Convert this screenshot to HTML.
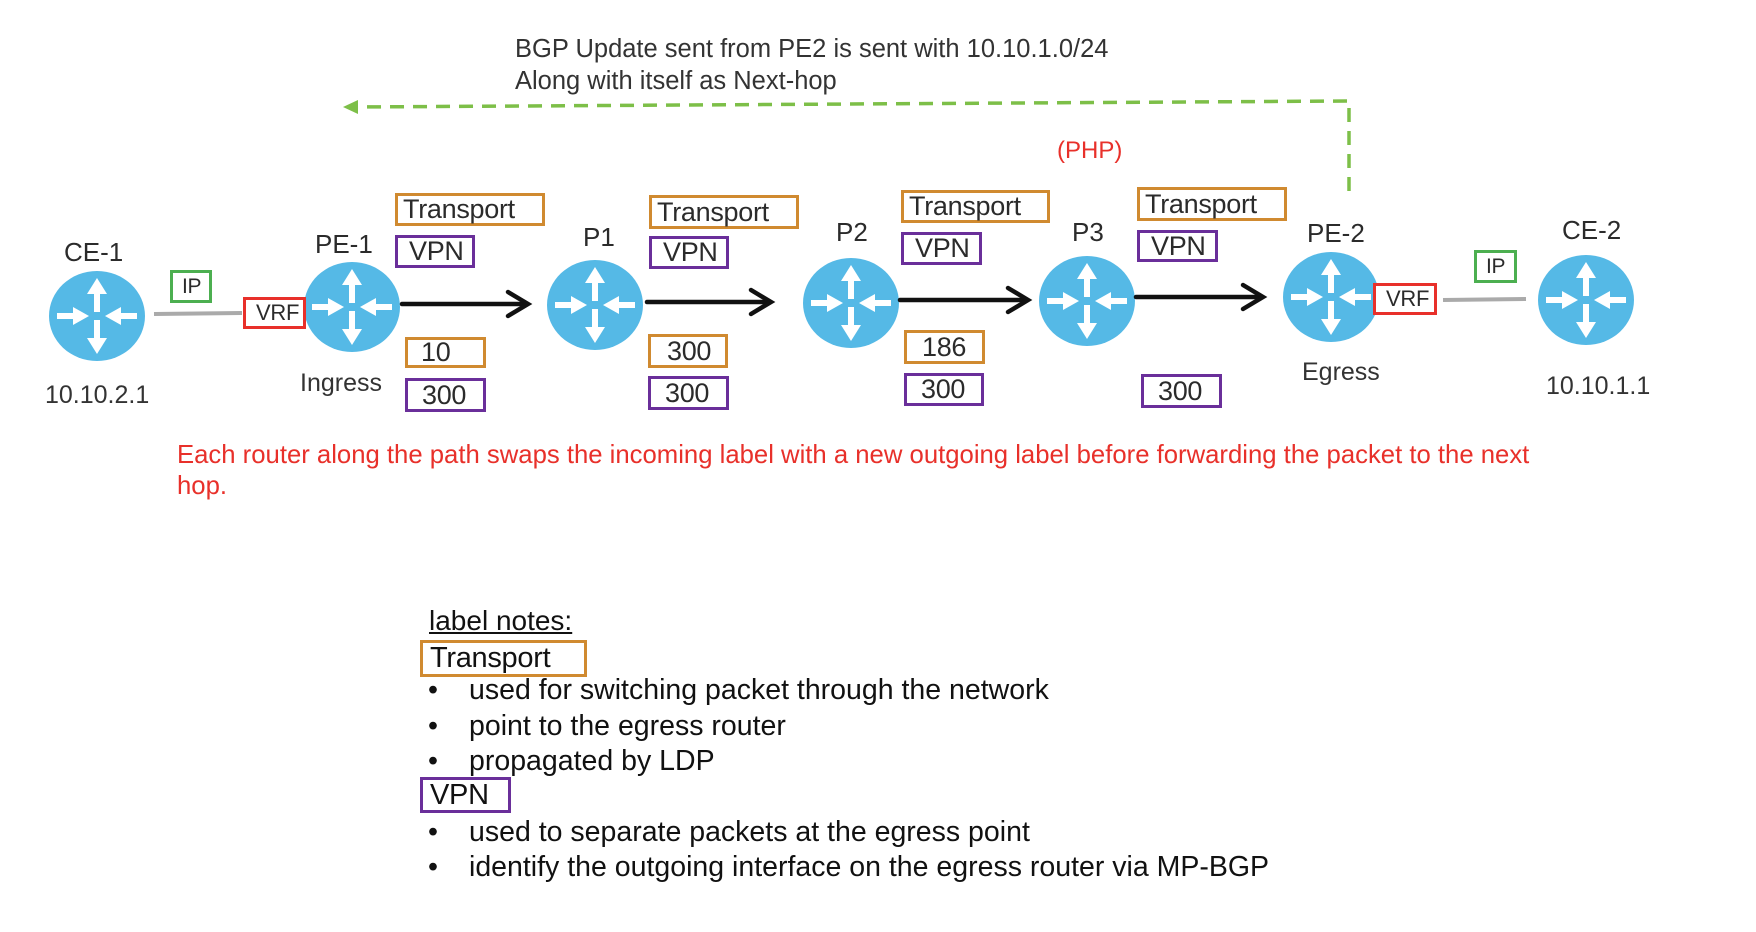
<!DOCTYPE html>
<html><head><meta charset="utf-8"><style>
body{margin:0;width:1756px;height:932px;background:#fff;overflow:hidden;position:relative;font-family:"Liberation Sans",sans-serif;color:#2b2b2b}
.t{position:absolute;white-space:nowrap;line-height:1}
.b{position:absolute;box-sizing:border-box;border:3.5px solid;background:#fff;font-size:27px;line-height:1;padding-left:5px;display:flex;align-items:center;white-space:nowrap;letter-spacing:-0.3px}
.o{border-color:#d08a30}.p{border-color:#6a2f9a}
.n{font-size:26px}
svg{position:absolute;left:0;top:0}
</style></head><body>
<svg width="1756" height="932" viewBox="0 0 1756 932">
<defs>
<g id="r">
<ellipse cx="0" cy="0" rx="48" ry="45" fill="#55b9e6"/>
<g fill="#fff" stroke="#fff">
<line x1="0" y1="-4" x2="0" y2="-24" stroke-width="6"/><polygon points="-10,-22 10,-22 0,-38" stroke="none"/>
<line x1="0" y1="4" x2="0" y2="24" stroke-width="6"/><polygon points="-10,22 10,22 0,38" stroke="none"/>
<line x1="-40" y1="0" x2="-22" y2="0" stroke-width="6"/><polygon points="-24,-9 -24,9 -8,0" stroke="none"/>
<line x1="40" y1="0" x2="22" y2="0" stroke-width="6"/><polygon points="24,-9 24,9 8,0" stroke="none"/>
</g></g>
</defs>
<line x1="154" y1="314" x2="242" y2="313" stroke="#aaa" stroke-width="4"/>
<line x1="1443" y1="300" x2="1526" y2="299" stroke="#aaa" stroke-width="4"/>
<use href="#r" x="97" y="316"/>
<use href="#r" x="352" y="307"/>
<use href="#r" x="595" y="305"/>
<use href="#r" x="851" y="303"/>
<use href="#r" x="1087" y="301"/>
<use href="#r" x="1331" y="297"/>
<use href="#r" x="1586" y="300"/>
<g stroke="#111" stroke-width="4.5" fill="none" stroke-linecap="round">
<line x1="402" y1="304" x2="527" y2="304"/><polyline points="508,292 528,304 508,316"/>
<line x1="647" y1="302" x2="770" y2="302"/><polyline points="751,290 771,302 751,314"/>
<line x1="900" y1="300" x2="1027" y2="300"/><polyline points="1008,288 1028,300 1008,312"/>
<line x1="1136" y1="297" x2="1262" y2="297"/><polyline points="1243,285 1263,297 1243,309"/>
</g>
<polyline points="1349,191 1349,101 356,107" fill="none" stroke="#7dbf48" stroke-width="3.5" stroke-dasharray="14,9"/>
<polygon points="343,107 358,100 358,114" fill="#7dbf48"/>
</svg>
<div class="t" style="left:515px;top:37px;font-size:25.5px;color:#333">BGP Update sent from PE2 is sent with 10.10.1.0/24</div>
<div class="t" style="left:515px;top:69px;font-size:25.5px;color:#333">Along with itself as Next-hop</div>
<div class="t" style="left:1057px;top:139px;font-size:24px;color:#e8302a">(PHP)</div>

<div class="t n" style="left:64px;top:239px">CE-1</div>
<div class="t n" style="left:315px;top:231px">PE-1</div>
<div class="t n" style="left:583px;top:224px">P1</div>
<div class="t n" style="left:836px;top:219px">P2</div>
<div class="t n" style="left:1072px;top:219px">P3</div>
<div class="t n" style="left:1307px;top:220px">PE-2</div>
<div class="t n" style="left:1562px;top:217px">CE-2</div>

<div class="b" style="left:170px;top:270px;width:42px;height:33px;border-color:#4caf50;font-size:21px;padding-left:9px">IP</div>
<div class="b" style="left:1474px;top:250px;width:43px;height:33px;border-color:#4caf50;font-size:21px;padding-left:9px">IP</div>
<div class="b" style="left:243px;top:297px;width:63px;height:32px;border-color:#e8302a;font-size:22px;padding-left:10px">VRF</div>
<div class="b" style="left:1373px;top:283px;width:64px;height:32px;border-color:#e8302a;font-size:22px;padding-left:10px">VRF</div>

<div class="b o" style="left:395px;top:193px;width:150px;height:33px">Transport</div>
<div class="b p" style="left:395px;top:235px;width:80px;height:33px;padding-left:11px">VPN</div>
<div class="b o" style="left:649px;top:195px;width:150px;height:34px">Transport</div>
<div class="b p" style="left:649px;top:236px;width:80px;height:33px;padding-left:11px">VPN</div>
<div class="b o" style="left:901px;top:190px;width:149px;height:33px">Transport</div>
<div class="b p" style="left:901px;top:232px;width:81px;height:33px;padding-left:11px">VPN</div>
<div class="b o" style="left:1137px;top:187px;width:150px;height:34px">Transport</div>
<div class="b p" style="left:1137px;top:230px;width:81px;height:32px;padding-left:11px">VPN</div>

<div class="b o" style="left:405px;top:337px;width:81px;height:31px;padding-left:13px">10</div>
<div class="b p" style="left:405px;top:378px;width:81px;height:34px;padding-left:14px">300</div>
<div class="b o" style="left:648px;top:334px;width:80px;height:34px;padding-left:16px">300</div>
<div class="b p" style="left:648px;top:376px;width:81px;height:34px;padding-left:14px">300</div>
<div class="b o" style="left:904px;top:330px;width:81px;height:34px;padding-left:15px">186</div>
<div class="b p" style="left:904px;top:373px;width:80px;height:33px;padding-left:14px">300</div>
<div class="b p" style="left:1141px;top:374px;width:81px;height:34px;padding-left:14px">300</div>

<div class="t" style="left:45px;top:383px;font-size:25px;color:#333">10.10.2.1</div>
<div class="t" style="left:300px;top:371px;font-size:25px;color:#333">Ingress</div>
<div class="t" style="left:1302px;top:360px;font-size:25px;color:#333">Egress</div>
<div class="t" style="left:1546px;top:374px;font-size:25px;color:#333">10.10.1.1</div>

<div class="t" style="left:177px;top:443px;font-size:25.7px;color:#e8302a">Each router along the path swaps the incoming label with a new outgoing label before forwarding the packet to the next</div>
<div class="t" style="left:177px;top:474px;font-size:25.7px;color:#e8302a">hop.</div>

<div class="t" style="left:429px;top:607px;font-size:28px;color:#111;text-decoration:underline">label notes:</div>
<div class="b o" style="left:420px;top:640px;width:167px;height:37px;font-size:29px;padding-left:7px;color:#111">Transport</div>
<div class="t" style="left:428px;top:676px;font-size:28.5px;color:#111">•</div><div class="t" style="left:469px;top:676px;font-size:28.5px;color:#111">used for switching packet through the network</div>
<div class="t" style="left:428px;top:712px;font-size:28.5px;color:#111">•</div><div class="t" style="left:469px;top:712px;font-size:28.5px;color:#111">point to the egress router</div>
<div class="t" style="left:428px;top:747px;font-size:28.5px;color:#111">•</div><div class="t" style="left:469px;top:747px;font-size:28.5px;color:#111">propagated by LDP</div>
<div class="b p" style="left:420px;top:777px;width:91px;height:36px;font-size:29px;padding-left:7px;color:#111">VPN</div>
<div class="t" style="left:428px;top:818px;font-size:28.5px;color:#111">•</div><div class="t" style="left:469px;top:818px;font-size:28.5px;color:#111">used to separate packets at the egress point</div>
<div class="t" style="left:428px;top:853px;font-size:28.5px;color:#111">•</div><div class="t" style="left:469px;top:853px;font-size:28.5px;color:#111">identify the outgoing interface on the egress router via MP-BGP</div>
</body></html>
